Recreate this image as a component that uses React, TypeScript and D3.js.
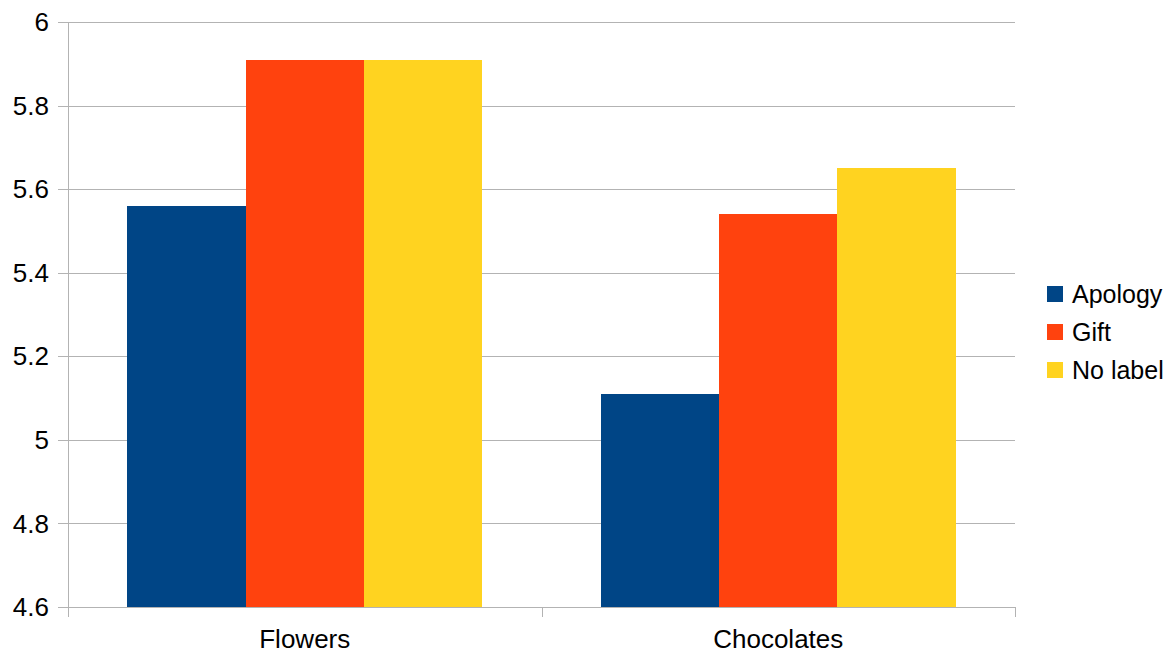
import React, { useEffect, useRef } from 'react';
import * as d3 from 'd3';

const categories = ['Flowers', 'Chocolates'];
const seriesNames = ['Apology', 'Gift', 'No label'];
const apology = [5.56, 5.11];
const gift = [5.91, 5.54];
const noLabel = [5.91, 5.65];
const yTicks = [4.6, 4.8, 5, 5.2, 5.4, 5.6, 5.8, 6];
const colors = ['#004586', '#ff420e', '#ffd320'];

const W = 1176;
const H = 653;
const margin = { top: 22, right: 161, bottom: 46, left: 68 };

const App: React.FC = () => {
  const svgRef = useRef<SVGSVGElement>(null);

  useEffect(() => {
    if (!svgRef.current) return;
    const svg = d3.select(svgRef.current);
    svg.selectAll('*').remove();

    const font = '"Liberation Sans", Arial, sans-serif';
    const innerW = W - margin.left - margin.right;
    const innerH = H - margin.top - margin.bottom;
    const series = [apology, gift, noLabel];

    const x = d3.scaleBand<string>().domain(categories).range([0, innerW]).paddingInner(0).paddingOuter(0);
    const inner = d3.scaleBand<number>()
      .domain(d3.range(seriesNames.length))
      .range([x.bandwidth() * 0.125, x.bandwidth() * 0.875]);
    const y = d3.scaleLinear().domain([4.6, 6]).range([innerH, 0]);

    const g = svg.append('g').attr('transform', `translate(${margin.left},${margin.top})`);

    // grid
    g.selectAll('line.grid')
      .data(yTicks)
      .enter()
      .append('line')
      .attr('x1', -10)
      .attr('x2', innerW)
      .attr('y1', d => Math.round(y(d)) + 0.5)
      .attr('y2', d => Math.round(y(d)) + 0.5)
      .attr('stroke', '#b3b3b3')
      .attr('stroke-width', 1);

    // bars
    categories.forEach((c, ci) => {
      series.forEach((s, si) => {
        g.append('rect')
          .attr('x', (x(c) ?? 0) + (inner(si) ?? 0))
          .attr('y', y(s[ci]))
          .attr('width', inner.bandwidth())
          .attr('height', innerH - y(s[ci]))
          .attr('fill', colors[si])
          .attr('shape-rendering', 'crispEdges');
      });
    });

    // y axis line
    g.append('line')
      .attr('x1', 0.5).attr('x2', 0.5)
      .attr('y1', 0).attr('y2', innerH + 10)
      .attr('stroke', '#b3b3b3');

    // x tick marks at category boundaries
    const bounds = [0, ...categories.map(c => (x(c) ?? 0) + x.bandwidth())];
    g.selectAll('line.xtick')
      .data(bounds)
      .enter()
      .append('line')
      .attr('x1', d => Math.round(d) + 0.5)
      .attr('x2', d => Math.round(d) + 0.5)
      .attr('y1', innerH)
      .attr('y2', innerH + 10)
      .attr('stroke', '#b3b3b3');

    // y tick labels
    g.selectAll('text.ylab')
      .data(yTicks)
      .enter()
      .append('text')
      .attr('x', -19)
      .attr('y', d => y(d))
      .attr('dy', '0.35em')
      .attr('text-anchor', 'end')
      .style('font-family', font)
      .style('font-size', '26px')
      .attr('fill', '#000')
      .text(d => d3.format('~g')(d));

    // x labels
    g.selectAll('text.xlab')
      .data(categories)
      .enter()
      .append('text')
      .attr('x', d => (x(d) ?? 0) + x.bandwidth() / 2)
      .attr('y', innerH + 41)
      .attr('text-anchor', 'middle')
      .style('font-family', font)
      .style('font-size', '26px')
      .attr('fill', '#000')
      .text(d => d);

    // legend
    const legend = svg.append('g').attr('transform', `translate(1047, 294)`);
    seriesNames.forEach((name, i) => {
      legend.append('rect')
        .attr('x', 0)
        .attr('y', i * 38 - 8)
        .attr('width', 16)
        .attr('height', 16)
        .attr('fill', colors[i]);
      legend.append('text')
        .attr('x', 25)
        .attr('y', i * 38)
        .attr('dy', '0.35em')
        .style('font-family', font)
        .style('font-size', '25px')
        .attr('fill', '#000')
        .text(name);
    });
  }, []);

  return (
    <svg
      ref={svgRef}
      width={W}
      height={H}
      style={{ position: 'absolute', left: 0, top: 0, background: '#fff' }}
    />
  );
};

export default App;
